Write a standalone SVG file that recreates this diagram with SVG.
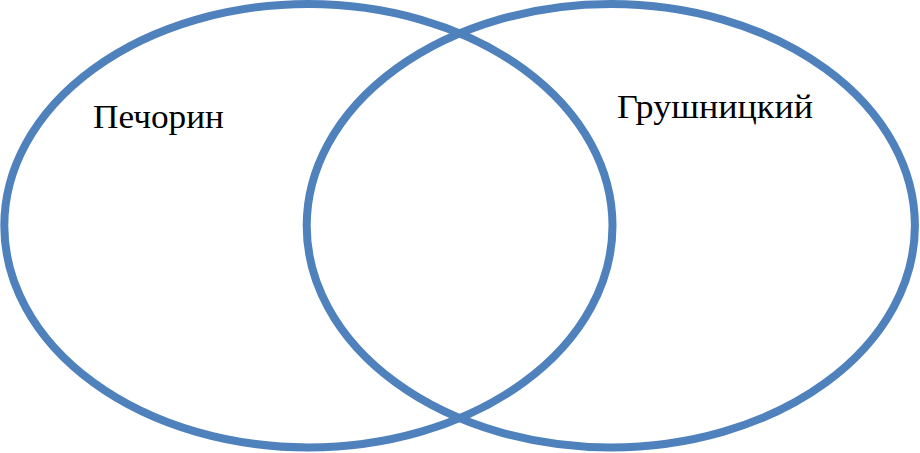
<svg xmlns="http://www.w3.org/2000/svg" width="920" height="453" viewBox="0 0 920 453">
<style>
.c{fill:none;stroke:#4F81BD;stroke-width:8}
.t{font-family:"Liberation Serif","Times New Roman",serif;font-size:33px;fill:#000}
</style>
<rect width="920" height="453" fill="#fff"/>
<g id="pechorin">
<ellipse class="c" cx="308.4" cy="225.7" rx="304.1" ry="221.7"/>
<text class="t" x="93" y="127.7" textLength="131" lengthAdjust="spacingAndGlyphs">Печорин</text>
</g>
<g id="grushnitsky">
<ellipse class="c" cx="610.8" cy="225.7" rx="304.1" ry="221.7"/>
<text class="t" x="617" y="118.3" textLength="196" lengthAdjust="spacingAndGlyphs">Грушницкий</text>
</g>
<g id="connectors"/>
</svg>
